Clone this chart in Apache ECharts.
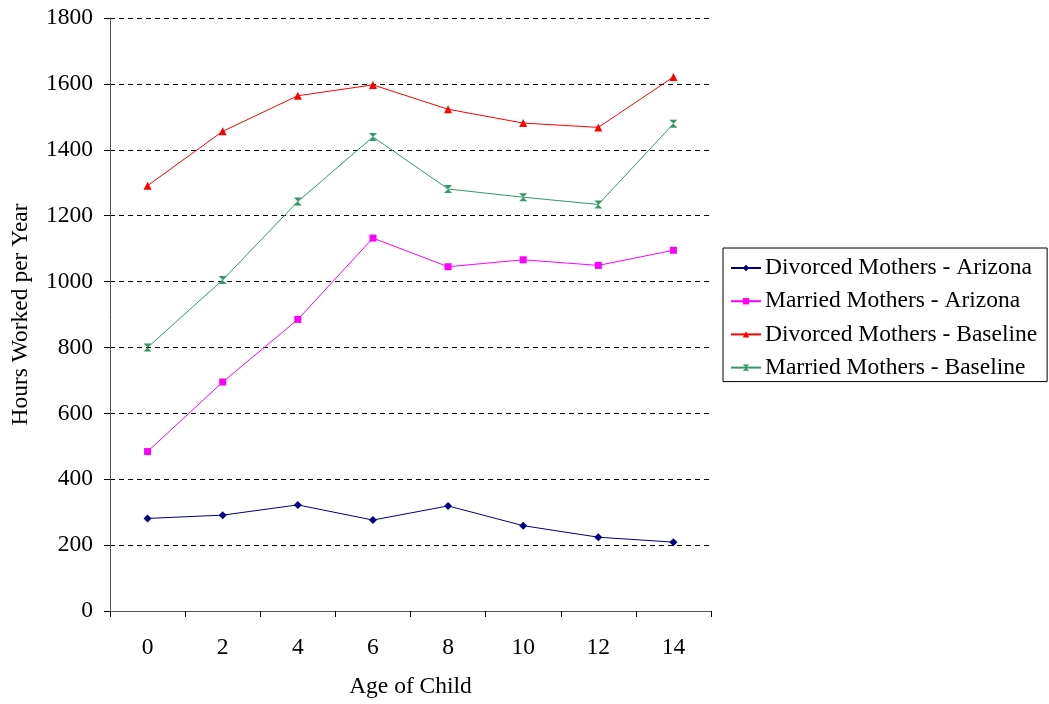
<!DOCTYPE html>
<html>
<head>
<meta charset="utf-8">
<title>Hours Worked per Year by Age of Child</title>
<script src="https://cdn.jsdelivr.net/npm/echarts@6/dist/echarts.min.js"></script>
<style>
  html, body { margin: 0; padding: 0; background: #fff; }
  #chart { width: 1049px; height: 704px; }
</style>
</head>
<body>
<div id="chart"></div>
<script>
// Age of child (categories on the x axis)
const ages = ['0', '2', '4', '6', '8', '10', '12', '14'];

// Hours worked per year for each group
const divorcedArizona = [281, 291, 322, 276, 319, 259, 224, 209];
const marriedArizona  = [484, 695, 885, 1132, 1045, 1066, 1049, 1095];
const divorcedBaseline = [1291, 1456, 1564, 1597, 1523, 1481, 1468, 1621];
const marriedBaseline  = [800, 1005, 1243, 1439, 1281, 1256, 1234, 1479];

const seriesNames = [
  'Divorced Mothers - Arizona',
  'Married Mothers - Arizona',
  'Divorced Mothers - Baseline',
  'Married Mothers - Baseline'
];

const font = '"Liberation Serif", "Times New Roman", serif';
const fs = 23.5;
const hourglass = 'path://M0,0L10,0L0,10L10,10Z';

function lineSeries(name, data, color, symbol, size) {
  return {
    name: name,
    type: 'line',
    data: data,
    symbol: symbol,
    symbolSize: size,
    showSymbol: true,
    lineStyle: { color: color, width: 1 },
    itemStyle: { color: color, borderWidth: 0 },
    emphasis: { disabled: true },
    animation: false
  };
}

const chart = echarts.init(document.getElementById('chart'), null, { renderer: 'canvas' });
chart.setOption({
  backgroundColor: '#fff',
  textStyle: { fontFamily: font, color: '#000' },
  grid: { left: 110, right: 338, top: 18, bottom: 93, containLabel: false },
  legend: {
    orient: 'vertical',
    left: 723,
    top: 248,
    padding: [8, 10, 2, 7],
    itemGap: 9.2,
    itemWidth: 30,
    itemHeight: 8,
    borderColor: '#000',
    borderWidth: 1,
    backgroundColor: '#fff',
    textStyle: { fontFamily: font, fontSize: fs, color: '#000', padding: [0, 0, 0, -1] },
    data: seriesNames
  },
  xAxis: {
    type: 'category',
    data: ages,
    boundaryGap: true,
    name: 'Age of Child',
    nameLocation: 'middle',
    nameGap: 64,
    nameTextStyle: { fontFamily: font, fontSize: fs, color: '#000' },
    axisLine: { lineStyle: { color: '#555', width: 1 } },
    axisTick: { show: true, length: 6, lineStyle: { color: '#000' } },
    axisLabel: { fontFamily: font, fontSize: fs, color: '#000', margin: 25 },
    splitLine: { show: false }
  },
  yAxis: {
    type: 'value',
    min: 0,
    max: 1800,
    interval: 200,
    name: 'Hours Worked per Year',
    nameLocation: 'middle',
    nameGap: 77,
    nameTextStyle: { fontFamily: font, fontSize: fs, color: '#000' },
    axisLine: { show: true, lineStyle: { color: '#555', width: 1 } },
    axisTick: { show: true, length: 6, lineStyle: { color: '#000' } },
    axisLabel: { fontFamily: font, fontSize: fs, color: '#000', margin: 17, formatter: v => String(v) },
    splitLine: { show: true, lineStyle: { color: '#000', type: [5, 4], width: 1 } }
  },
  series: [
    lineSeries(seriesNames[0], divorcedArizona, '#000080', 'diamond', 8),
    lineSeries(seriesNames[1], marriedArizona, '#FF00FF', 'rect', 7),
    lineSeries(seriesNames[2], divorcedBaseline, '#FF0000', 'triangle', 8),
    lineSeries(seriesNames[3], marriedBaseline, '#339966', hourglass, 8)
  ]
});
</script>
</body>
</html>
